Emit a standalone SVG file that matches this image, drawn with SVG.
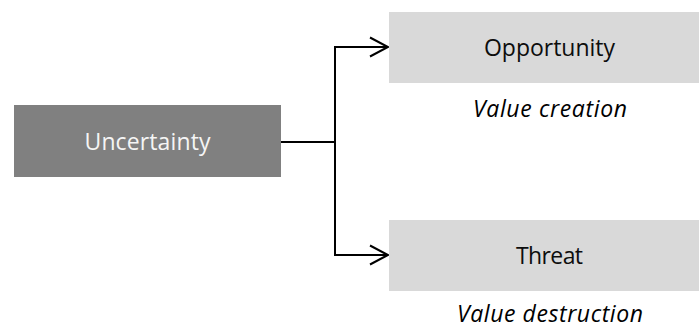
<svg xmlns="http://www.w3.org/2000/svg" width="699" height="329" viewBox="0 0 699 329">
  <style>
    .label { font-family: "Open Sans", "Liberation Sans", sans-serif; font-size: 23px; text-anchor: middle; }
    .note { font-family: "Open Sans", "Liberation Sans", sans-serif; font-size: 23px; font-style: italic; text-anchor: middle; fill: #000; }
    .dark { fill: #808080; }
    .light { fill: #d9d9d9; }
    .wire { fill: none; stroke: #000; stroke-width: 2; }
  </style>
  <defs>
    <marker id="chevron" markerUnits="userSpaceOnUse" markerWidth="24" markerHeight="24" refX="20" refY="12" orient="auto">
      <path d="M2,2.5 L20,12 L2,21.5" fill="none" stroke="#000" stroke-width="2"/>
    </marker>
  </defs>
  <rect width="699" height="329" fill="#fff"/>

  <g id="connectors">
    <path class="wire" d="M281,142 H335"/>
    <path class="wire" d="M335,47 V255"/>
    <path class="wire" d="M334,47 H388" marker-end="url(#chevron)"/>
    <path class="wire" d="M334,255 H388" marker-end="url(#chevron)"/>
  </g>

  <g id="uncertainty">
    <rect class="dark" x="14" y="105" width="267" height="72"/>
    <text class="label" x="147.5" y="149.5" fill="#f5f5f5" textLength="126">Uncertainty</text>
  </g>

  <g id="opportunity">
    <rect class="light" x="389" y="12" width="321" height="71"/>
    <text class="label" x="549.5" y="56" fill="#0d0d0d" textLength="131">Opportunity</text>
    <text class="note" x="550" y="117" textLength="154">Value creation</text>
  </g>

  <g id="threat">
    <rect class="light" x="389" y="220" width="321" height="71"/>
    <text class="label" x="549.5" y="264" fill="#0d0d0d" textLength="67">Threat</text>
    <text class="note" x="550" y="322" textLength="186">Value destruction</text>
  </g>
</svg>
